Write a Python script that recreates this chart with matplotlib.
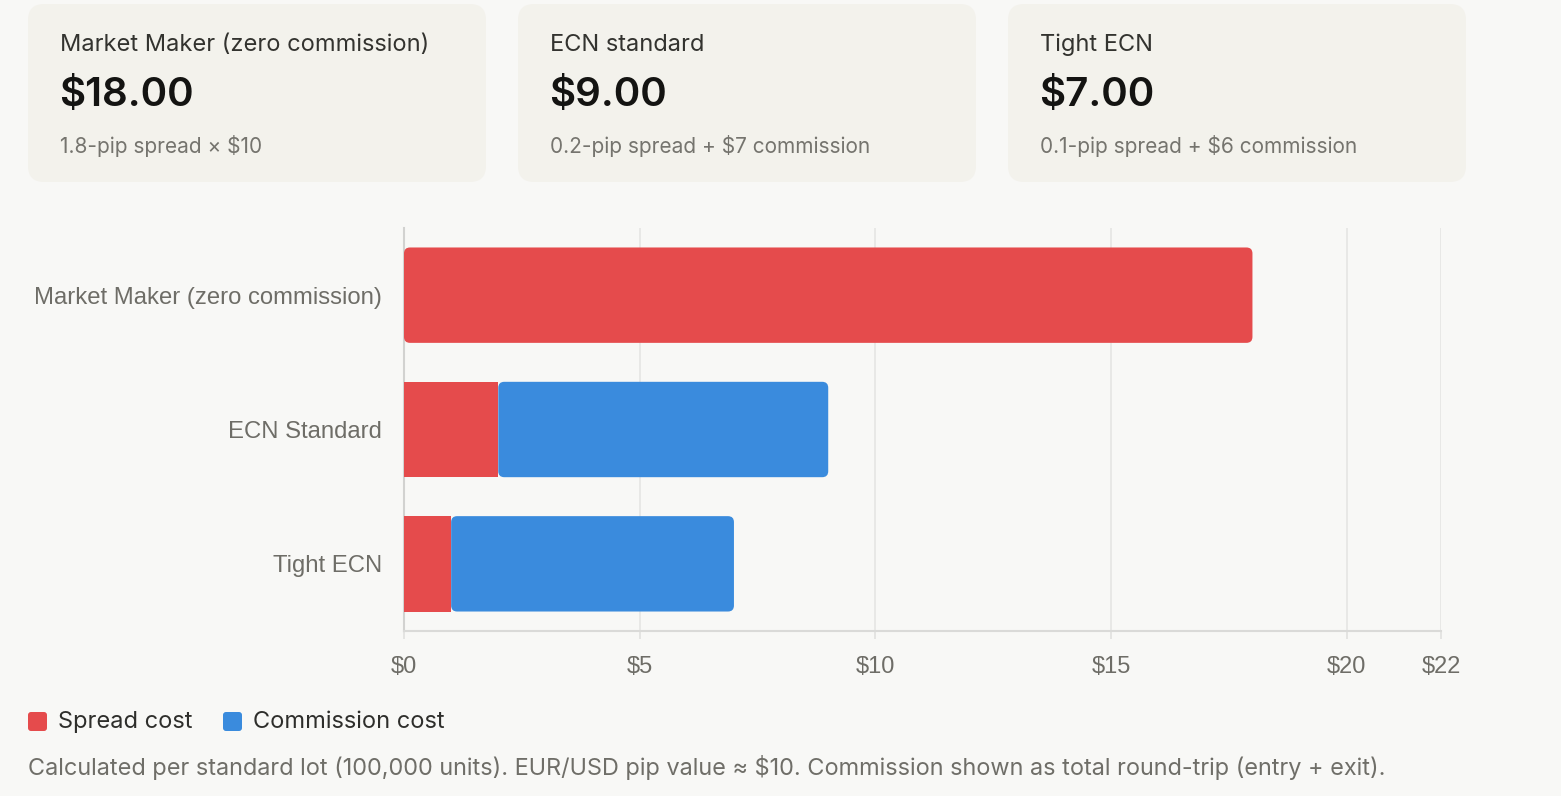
import matplotlib
matplotlib.use("Agg")
import matplotlib.pyplot as plt
from matplotlib.patches import FancyBboxPatch

# chart data
brokers = ['Market Maker (zero commission)', 'ECN Standard', 'Tight ECN']
spread_cost = [18, 2, 1]
commission_cost = [0, 7, 6]
x_ticks = [0, 5, 10, 15, 20, 22]
x_max = 22

# summary cards
card_titles = ['Market Maker (zero commission)', 'ECN standard', 'Tight ECN']
card_notes = ['1.8-pip spread × $10', '0.2-pip spread + $7 commission', '0.1-pip spread + $6 commission']

legend_labels = ['Spread cost', 'Commission cost']
footer = ('Calculated per standard lot (100,000 units). EUR/USD pip value \u2248 $10. '
          'Commission shown as total round-trip (entry + exit).')

RED = '#e54b4c'
BLUE = '#3a8bdd'
BG = '#f8f8f6'
CARD = '#f3f2ec'
W, H = 1561, 796

fig = plt.figure(figsize=(W / 100, H / 100), dpi=100, facecolor=BG)

# background layer in pixel coords
bg = fig.add_axes([0, 0, 1, 1])
bg.set_xlim(0, W)
bg.set_ylim(H, 0)
bg.axis('off')

card_x = [28, 518, 1008]
card_w = 458
for i in range(3):
    x0 = card_x[i]
    bg.add_patch(FancyBboxPatch((x0, 4), card_w, 178, boxstyle='round,pad=0,rounding_size=16',
                                fc=CARD, ec='none'))
    bg.text(x0 + 32, 45, card_titles[i], fontsize=17, family='Inter', color='#33332f',
            va='center', ha='left')
    total = spread_cost[i] + commission_cost[i]
    bg.text(x0 + 31, 96, f'${total:.2f}', fontsize=29, family='Inter', fontweight='semibold',
            color='#141412', va='center', ha='left')
    bg.text(x0 + 32, 146, card_notes[i], fontsize=15, family='Inter', color='#75746e',
            va='center', ha='left')

# legend
leg_x = [28, 223]
for i, col in enumerate([RED, BLUE]):
    bg.add_patch(FancyBboxPatch((leg_x[i], 712), 19, 19, boxstyle='round,pad=0,rounding_size=3',
                                fc=col, ec='none'))
    bg.text(leg_x[i] + 30, 722, legend_labels[i], fontsize=17, family='Inter', color='#2e2e2b',
            va='center', ha='left')

bg.text(28, 768, footer, fontsize=16.9, family='Inter', color='#6f6e68', va='center', ha='left')

# main chart
left, right, top, bottom = 404, 1441, 228, 631
ax = fig.add_axes([left / W, 1 - bottom / H, (right - left) / W, (bottom - top) / H])
ax.set_facecolor('none')

ypos = list(range(len(brokers)))
bar_h = 0.71
bars_s = ax.barh(ypos, spread_cost, height=bar_h, color=RED, zorder=3)
bars_c = ax.barh(ypos, commission_cost, left=spread_cost, height=bar_h, color=BLUE, zorder=3)

ax.set_xlim(0, x_max)
ax.set_ylim(len(brokers) - 0.5, -0.5)

# rounded corners: radius in px converted to data units
px_x = (right - left) / x_max
px_y = (bottom - top) / len(brokers)
rad = 6 / px_x
aspect = px_x / px_y


def round_bar(rect, color):
    rect.set_visible(False)
    ax.add_patch(FancyBboxPatch((rect.get_x(), rect.get_y()), rect.get_width(), rect.get_height(),
                                boxstyle=f'round,pad=0,rounding_size={rad}',
                                mutation_aspect=aspect, fc=color, ec='none', zorder=3))


for i in range(len(brokers)):
    if commission_cost[i] == 0:
        round_bar(bars_s[i], RED)
    if commission_cost[i] > 0:
        round_bar(bars_c[i], BLUE)

ax.set_xticks(x_ticks)
ax.set_xticklabels([f'${t}' for t in x_ticks])
ax.set_yticks(ypos)
ax.set_yticklabels(brokers)

ax.grid(axis='x', color='#e7e7e5', linewidth=1.3, zorder=0)
ax.set_axisbelow(True)
for s in ['top', 'right']:
    ax.spines[s].set_visible(False)
ax.spines['bottom'].set_color('#dadad8')
ax.spines['bottom'].set_linewidth(1.5)
ax.spines['left'].set_color('#d2d2d0')
ax.spines['left'].set_linewidth(1.5)

ax.tick_params(axis='x', length=6, width=1.3, color='#e2e2e0', pad=12,
               labelsize=17, labelcolor='#6e6d67')
ax.tick_params(axis='y', length=0, pad=16, labelsize=17.2, labelcolor='#6e6d67')
for lab in ax.get_xticklabels() + ax.get_yticklabels():
    lab.set_family('Liberation Sans')

fig.savefig('out.png', dpi=100, facecolor=BG)
